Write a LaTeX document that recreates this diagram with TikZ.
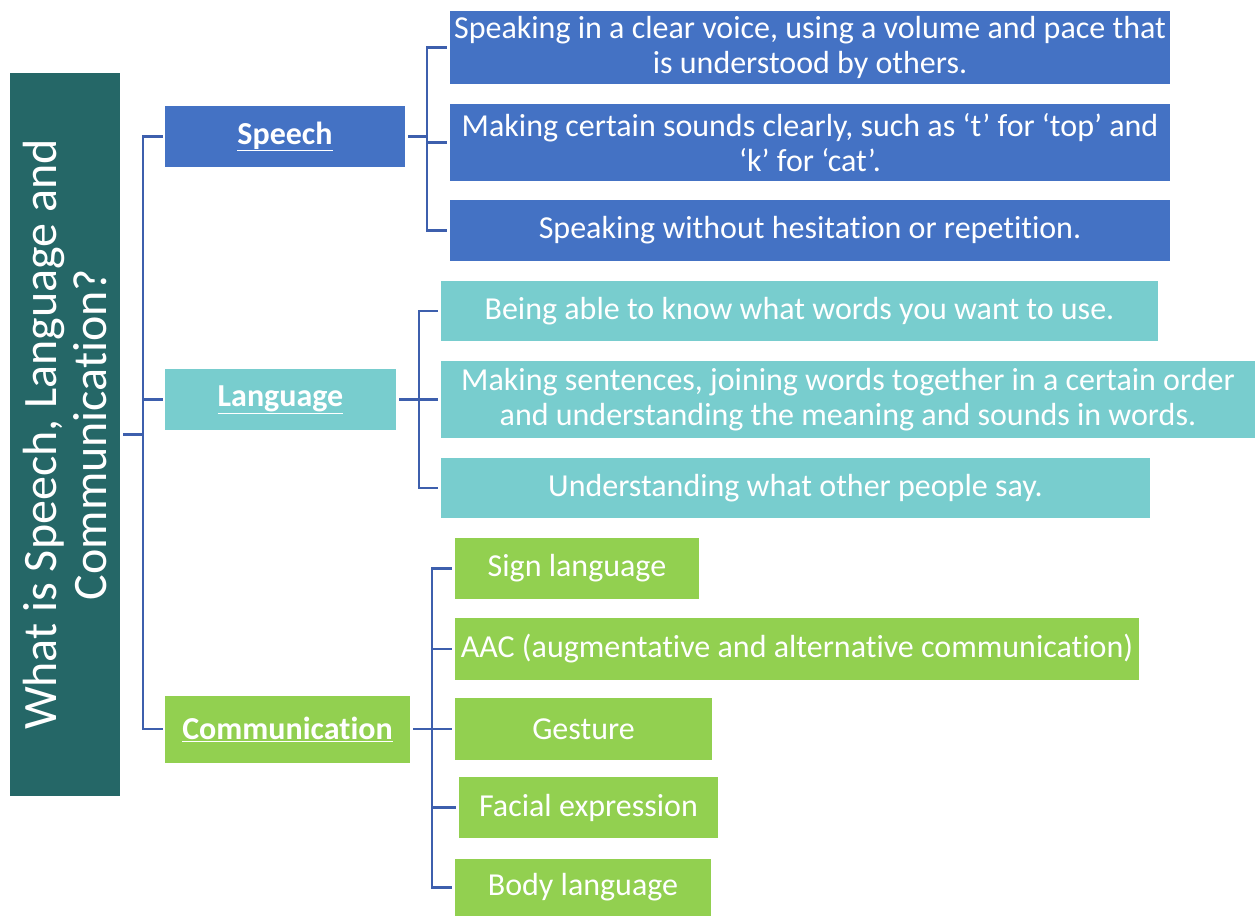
\documentclass[tikz,border=0pt]{standalone}
\usepackage{fontspec}
\setmainfont[Ligatures={NoCommon}]{Carlito}
\definecolor{titlecol}{HTML}{256767}
\definecolor{speechcol}{HTML}{4472C4}
\definecolor{langcol}{HTML}{78CDCE}
\definecolor{commcol}{HTML}{92D050}
\definecolor{linecol}{HTML}{3D5FAD}
\begin{document}
\begin{tikzpicture}[x=1pt,y=-1pt,
  box/.style={inner sep=0pt,outer sep=0pt,text=white,align=center,font=\fontsize{32}{35}\selectfont},
  head/.style={box,font=\fontsize{32}{35}\selectfont\bfseries},
  conn/.style={draw=linecol,line width=2.2pt}]
\useasboundingbox (0,0) rectangle (1256,916);
% title
\node[box,fill=titlecol,rotate=90,minimum width=723pt,minimum height=110pt,font=\fontsize{48}{50}\selectfont] (title) at (65,434.5) {What is Speech, Language and\\Communication?};
% headings
\node[head,fill=speechcol,minimum width=240pt,minimum height=61pt] (speech) at (285,136.5) {\underline{Speech}};
\node[head,fill=langcol,minimum width=231pt,minimum height=61pt] (lang) at (280.5,399.5) {\underline{Language}};
\node[head,fill=commcol,minimum width=245pt,minimum height=67pt] (comm) at (287.5,729) {\underline{Communication}};
% speech children
\node[box,fill=speechcol,minimum width=720pt,minimum height=73pt] (s1) at (810,47.5) {Speaking in a clear voice, using a volume and pace that\\is understood by others.};
\node[box,fill=speechcol,minimum width=720pt,minimum height=77pt] (s2) at (810,142.5) {Making certain sounds clearly, such as ‘t’ for ‘top’ and\\‘k’ for ‘cat’.};
\node[box,fill=speechcol,minimum width=720pt,minimum height=61pt] (s3) at (810,230.5) {Speaking without hesitation or repetition.};
% language children
\node[box,fill=langcol,minimum width=717pt,minimum height=60pt] (l1) at (799.5,311) {Being able to know what words you want to use.};
\node[box,fill=langcol,minimum width=814pt,minimum height=77pt] (l2) at (848,399.5) {Making sentences, joining words together in a certain order\\and understanding the meaning and sounds in words.};
\node[box,fill=langcol,minimum width=709pt,minimum height=60pt] (l3) at (795.5,488) {Understanding what other people say.};
% communication children
\node[box,fill=commcol,minimum width=244pt,minimum height=61pt] (c1) at (577,568.5) {Sign language};
\node[box,fill=commcol,minimum width=684pt,minimum height=62pt] (c2) at (797,649) {AAC (augmentative and alternative communication)};
\node[box,fill=commcol,minimum width=257pt,minimum height=62pt] (c3) at (583.5,729) {Gesture};
\node[box,fill=commcol,minimum width=259pt,minimum height=61pt] (c4) at (588.5,807.5) {Facial expression};
\node[box,fill=commcol,minimum width=256pt,minimum height=57pt] (c5) at (583,887.5) {Body language};
% connectors
\coordinate (b0) at (143,434.5);
\coordinate (bs) at (427,136.5);
\coordinate (bl) at (419,399.5);
\coordinate (bc) at (432,729);
\draw[conn] ([xshift=3pt]title.south) -- (b0);
\draw[conn] (b0) |- ([xshift=-2pt]speech.west);
\draw[conn] (b0) |- ([xshift=-2pt]lang.west);
\draw[conn] (b0) |- ([xshift=-2pt]comm.west);
\draw[conn] ([xshift=3pt]speech.east) -- (bs);
\foreach \c in {s1,s2,s3} \draw[conn] (bs) |- ([xshift=-3pt]\c.west);
\draw[conn] ([xshift=3pt]lang.east) -- (bl);
\foreach \c in {l1,l2,l3} \draw[conn] (bl) |- ([xshift=-3pt]\c.west);
\draw[conn] ([xshift=3pt]comm.east) -- (bc);
\foreach \c in {c1,c2,c3,c4,c5} \draw[conn] (bc) |- ([xshift=-3pt]\c.west);
\end{tikzpicture}
\end{document}
